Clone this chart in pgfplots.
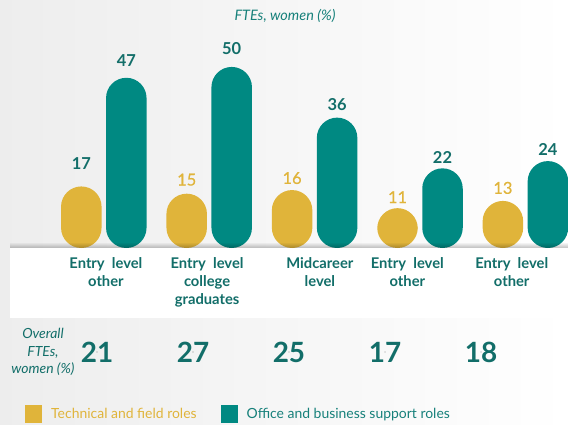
\documentclass[border=0pt]{standalone}
\usepackage{fontspec}
\setmainfont{Lato}
\newfontfamily\latomed{Lato}[FakeBold=0.5]
\usepackage{pgfplots}
\pgfplotsset{compat=1.18}
\usepackage{pgfplotstable}
\usetikzlibrary{fadings}

\definecolor{gold}{RGB}{224,180,58}
\definecolor{tealbar}{RGB}{0,137,130}
\definecolor{tealtxt}{RGB}{18,110,105}
\definecolor{teallite}{RGB}{22,128,122}

% dy: label centre above bar top (bp); t=1: dark teal bold label
\pgfplotstableread{
x y lab dy t
0 17 17 23 1
1 15 15 14 0
2 16 16 12 0
3 11 11 11 0
4 13 13 13 0
}\techroles
\pgfplotstableread{
x y lab dy t
0 47 47 17 1
1 50 50 18 1
2 36 36 13 1
3 22 22 11 1
4 24 24 12 1
}\officeroles
% overall FTEs, women (%)
\pgfplotstableread{
x y lab
-0.0645 0 21
0.8463 0 27
1.757 0 25
2.668 0 17
3.579 0 18
}\overall

\pgfplotsset{
  barlabels/.style={
    visualization depends on={\thisrow{dy} \as \labdy},
    visualization depends on={\thisrow{t} \as \labt},
    nodes near coords={\ifdim\labt pt>0.5pt\color{tealtxt}\bfseries\else\color{gold}\latomed\fi\pgfplotspointmeta},
    every node near coord/.append style={anchor=center, xshift=#1, yshift=\labdy bp, font=\fontsize{16.5}{18}\selectfont},
  },
}

\begin{document}
\begin{tikzpicture}[x=1bp,y=1bp]
\shade[left color=black!7, right color=white] (0,0) rectangle (568,425);
\fill[white] (10,107) rectangle (568,177);
\begin{axis}[
  at={(0bp,177bp)}, anchor=south west,
  scale only axis, width=568bp, height=218bp,
  xmin=-0.9848, xmax=4.4042,
  ymin=0, ymax=60.2,
  y coord trafo/.code={\pgfmathparse{#1+6}},
  y coord inv trafo/.code={\pgfmathparse{#1-6}},
  axis line style={draw=none},
  major tick length=0pt,
  ytick=\empty,
  xtick={0.02,0.98,2.05,2.88,3.87},
  xticklabels={Entry\ \ level\\other, Entry\ \ level\\college\\graduates, Midcareer\\level, Entry\ \ level\\other, Entry\ \ level\\other},
  xticklabel style={align=center, yshift=-6bp, text=tealtxt, font=\bfseries\fontsize{14.8}{18}\selectfont},
  legend style={at={(0.0440,-0.7615)}, anchor=west, draw=none, fill=none,
    inner sep=0pt, font=\fontsize{14}{16}\selectfont, nodes={inner sep=0pt},
    /tikz/every odd column/.append style={column sep=9bp},
    /tikz/every even column/.append style={column sep=24bp}},
  legend columns=2,
  legend image code/.code={\fill[#1, sharp corners] (0bp,-9bp) rectangle (17bp,9bp);},
  point meta=explicit symbolic,
]
\addplot[ybar, bar width=40.5bp, bar shift=-22.5bp, fill=gold, draw=none, rounded corners=20.25bp, barlabels=-22.5bp]
  table[x=x, y=y, meta=lab] {\techroles};
\addlegendentry{\textcolor{gold}{Technical and field roles}}
\addplot[ybar, bar width=40.5bp, bar shift=22.5bp, fill=tealbar, draw=none, rounded corners=20.25bp, barlabels=22.5bp]
  table[x=x, y=y, meta=lab] {\officeroles};
\addlegendentry{\textcolor{teallite}{Office and business support roles}}
\end{axis}
\begin{axis}[
  at={(0bp,53bp)}, anchor=south west,
  scale only axis, width=568bp, height=40bp,
  xmin=-0.9848, xmax=4.4042, ymin=-1, ymax=1,
  hide axis, clip=false,
  point meta=explicit symbolic,
]
\addplot[only marks, mark=*, mark size=0.01pt, mark options={draw=none, fill=none},
  nodes near coords={\pgfplotspointmeta},
  every node near coord/.append style={anchor=center, text=tealtxt, font=\bfseries\fontsize{28}{30}\selectfont}]
  table[x=x, y=y, meta=lab] {\overall};
\end{axis}
\fill[black, opacity=0.25, path fading=north] (10,177) rectangle (568,183);
\node[font=\itshape\fontsize{14.5}{17}\selectfont, text=teallite] at (285,409) {FTEs, women (\%)};
\node[align=center, font=\itshape\fontsize{14}{17.5}\selectfont, text=tealtxt] at (43,73) {Overall\\FTEs,\\women (\%)};
\end{tikzpicture}
\end{document}
